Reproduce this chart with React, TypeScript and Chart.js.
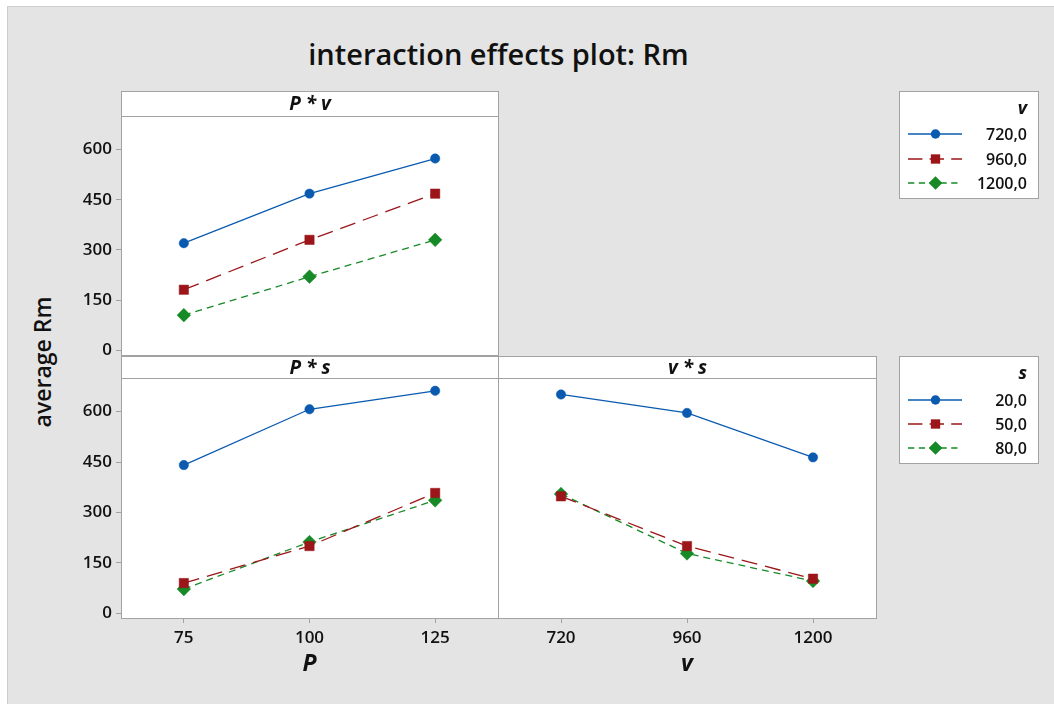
import React, { useEffect, useRef } from "react";
import { Chart, registerables } from "chart.js";

Chart.register(...registerables);

// Factor levels and y-axis ticks
const P_LEVELS = ["75", "100", "125"];
const V_LEVELS = ["720", "960", "1200"];
const Y_TICKS = [0, 150, 300, 450, 600];
const Y_MIN = -14;
const Y_MAX = 700;

// Mean Rm for P * v (one series per v level)
const PV_720 = [320, 468, 573];
const PV_960 = [181, 330, 468];
const PV_1200 = [105, 220, 330];

// Mean Rm for P * s (one series per s level)
const PS_20 = [441, 607, 662];
const PS_50 = [90, 200, 358];
const PS_80 = [72, 212, 336];

// Mean Rm for v * s (one series per s level)
const VS_20 = [651, 596, 464];
const VS_50 = [348, 200, 103];
const VS_80 = [355, 178, 96];

// Legend entries
const V_LEGEND = ["720,0", "960,0", "1200,0"];
const S_LEGEND = ["20,0", "50,0", "80,0"];

const FONT = "'Open Sans', 'Noto Sans', 'DejaVu Sans', sans-serif";
const TEXT = "#111111";
const FRAME = "#a2a2a2";
const PAGE_W = 1054;
const PAGE_H = 704;

type SeriesStyle = { color: string; dash: number[]; point: string; radius: number };

const STYLES: SeriesStyle[] = [
  { color: "#0a5bb0", dash: [], point: "circle", radius: 4.7 },
  { color: "#9b1519", dash: [16, 8], point: "rect", radius: 6.6 },
  { color: "#168a26", dash: [7, 5], point: "rectRot", radius: 6.8 },
];

function makeDatasets(series: number[][], names: string[]) {
  return series.map((values, i) => ({
    label: names[i],
    data: values,
    borderColor: STYLES[i].color,
    backgroundColor: STYLES[i].color,
    borderWidth: 1.3,
    borderDash: STYLES[i].dash,
    pointStyle: STYLES[i].point,
    pointRadius: STYLES[i].radius,
    pointHoverRadius: STYLES[i].radius,
    pointBorderWidth: 0.5,
    pointBackgroundColor: STYLES[i].color,
    pointBorderColor: STYLES[i].color,
    tension: 0,
    fill: false,
  }));
}

function drawMarker(ctx: CanvasRenderingContext2D, s: SeriesStyle, x: number, y: number) {
  ctx.beginPath();
  if (s.point === "circle") {
    ctx.arc(x, y, s.radius, 0, Math.PI * 2);
  } else if (s.point === "rect") {
    const h = s.radius * Math.SQRT1_2;
    ctx.rect(x - h, y - h, 2 * h, 2 * h);
  } else {
    const r = s.radius;
    ctx.moveTo(x - r, y);
    ctx.lineTo(x, y - r);
    ctx.lineTo(x + r, y);
    ctx.lineTo(x, y + r);
    ctx.closePath();
  }
  ctx.fillStyle = s.color;
  ctx.fill();
}

// Draws the white plot panel, its frame, the header strip and an optional legend box
const panelPlugin = {
  id: "panelFrame",
  beforeDraw(chart: any, _args: any, opts: any) {
    const { ctx, chartArea: a } = chart;
    const hh = opts.headerHeight;
    const l = Math.round(a.left) + 0.5;
    const r = Math.round(a.right) + 0.5;
    const t = Math.round(a.top) + 0.5;
    const b = Math.round(a.bottom) + 0.5;
    ctx.save();
    ctx.fillStyle = "#ffffff";
    ctx.fillRect(l, t - hh, r - l, b - t + hh);
    ctx.strokeStyle = FRAME;
    ctx.lineWidth = 1;
    ctx.strokeRect(l, t - hh, r - l, b - t + hh);
    ctx.beginPath();
    ctx.moveTo(l, t);
    ctx.lineTo(r, t);
    ctx.stroke();
    ctx.fillStyle = TEXT;
    ctx.font = `italic 700 19px ${FONT}`;
    ctx.textAlign = "center";
    ctx.textBaseline = "middle";
    ctx.fillText(opts.header, (l + r) / 2, t - hh / 2 + 1);
    ctx.restore();
  },
  afterDraw(chart: any, _args: any, opts: any) {
    const lg = opts.legend;
    if (!lg) return;
    const { ctx } = chart;
    ctx.save();
    ctx.fillStyle = "#ffffff";
    ctx.fillRect(lg.x + 0.5, lg.y + 0.5, lg.w, lg.h);
    ctx.strokeStyle = FRAME;
    ctx.lineWidth = 1;
    ctx.strokeRect(lg.x + 0.5, lg.y + 0.5, lg.w, lg.h);
    ctx.fillStyle = TEXT;
    ctx.textAlign = "right";
    ctx.textBaseline = "middle";
    ctx.font = `italic 700 18px ${FONT}`;
    ctx.fillText(lg.title, lg.x + 128, lg.y + 18);
    ctx.font = `600 16px ${FONT}`;
    chart.data.datasets.forEach((_ds: any, i: number) => {
      const s = STYLES[i];
      const y = lg.y + lg.rows[i];
      ctx.save();
      ctx.strokeStyle = s.color;
      ctx.lineWidth = 1.5;
      ctx.setLineDash(s.dash.length ? s.dash.map((d) => d * 0.9) : []);
      ctx.beginPath();
      ctx.moveTo(lg.x + 9, y);
      ctx.lineTo(lg.x + 63, y);
      ctx.stroke();
      ctx.restore();
      drawMarker(ctx, s, lg.x + 36.5, y);
      ctx.fillStyle = TEXT;
      ctx.fillText(lg.labels[i], lg.x + 128, y + 1);
    });
    ctx.restore();
  },
};

function yScale(show: boolean) {
  const scale: any = {
    type: "linear",
    min: Y_MIN,
    max: Y_MAX,
    display: show,
    afterBuildTicks: (s: any) => {
      s.ticks = Y_TICKS.map((v) => ({ value: v }));
    },
    grid: { drawOnChartArea: false, drawTicks: true, tickLength: 5, color: FRAME },
    border: { display: false },
    ticks: { color: TEXT, padding: 4, font: { family: FONT, size: 17, weight: "600" } },
  };
  if (show) scale.afterFit = (s: any) => { s.width = 50; };
  return scale;
}

function xScale(labels: string[], title: string, show: boolean) {
  const scale: any = {
    type: "category",
    labels,
    offset: true,
    display: show,
    grid: { drawOnChartArea: false, drawTicks: true, tickLength: 5, color: FRAME, offset: false },
    border: { display: false },
    ticks: { color: TEXT, padding: 5, font: { family: FONT, size: 17, weight: "600" } },
    title: {
      display: true,
      text: title,
      color: TEXT,
      padding: 0,
      font: { family: FONT, size: 23, style: "italic", weight: "bold" },
    },
  };
  if (show) scale.afterFit = (s: any) => { s.height = 60; };
  return scale;
}

function buildChart(
  canvas: HTMLCanvasElement,
  cfg: {
    labels: string[];
    series: number[][];
    names: string[];
    xTitle: string;
    showX: boolean;
    showY: boolean;
    padding: { left: number; top: number; right: number; bottom: number };
    header: string;
    headerHeight: number;
    legend?: any;
  }
) {
  return new Chart(canvas, {
    type: "line",
    data: { labels: cfg.labels, datasets: makeDatasets(cfg.series, cfg.names) as any },
    plugins: [panelPlugin as any],
    options: {
      animation: false,
      responsive: false,
      devicePixelRatio: 1,
      layout: { padding: cfg.padding },
      plugins: {
        legend: { display: false },
        title: { display: false },
        tooltip: { enabled: false },
        panelFrame: { header: cfg.header, headerHeight: cfg.headerHeight, legend: cfg.legend },
      } as any,
      scales: {
        x: xScale(cfg.labels, cfg.xTitle, cfg.showX),
        y: yScale(cfg.showY),
      },
    },
  });
}

export default function App() {
  const pvRef = useRef<HTMLCanvasElement>(null);
  const psRef = useRef<HTMLCanvasElement>(null);
  const vsRef = useRef<HTMLCanvasElement>(null);

  useEffect(() => {
    const charts: Chart[] = [];
    charts.push(
      buildChart(pvRef.current!, {
        labels: P_LEVELS,
        series: [PV_720, PV_960, PV_1200],
        names: V_LEGEND,
        xTitle: "P",
        showX: false,
        showY: true,
        padding: { left: 71, top: 116, right: 556, bottom: 349 },
        header: "P * v",
        headerHeight: 25,
        legend: { x: 899, y: 91, w: 139, h: 107, title: "v", labels: V_LEGEND, rows: [43, 68, 92] },
      })
    );
    charts.push(
      buildChart(psRef.current!, {
        labels: P_LEVELS,
        series: [PS_20, PS_50, PS_80],
        names: S_LEGEND,
        xTitle: "P",
        showX: true,
        showY: true,
        padding: { left: 71, top: 378, right: 556, bottom: 26 },
        header: "P * s",
        headerHeight: 22,
      })
    );
    charts.push(
      buildChart(vsRef.current!, {
        labels: V_LEVELS,
        series: [VS_20, VS_50, VS_80],
        names: S_LEGEND,
        xTitle: "v",
        showX: true,
        showY: false,
        padding: { left: 498, top: 378, right: 178, bottom: 26 },
        header: "v * s",
        headerHeight: 22,
        legend: { x: 899, y: 356, w: 139, h: 107, title: "s", labels: S_LEGEND, rows: [44, 68, 92] },
      })
    );
    return () => charts.forEach((c) => c.destroy());
  }, []);

  const canvasStyle: React.CSSProperties = { position: "absolute", left: 0, top: 0 };

  return (
    <div
      style={{
        position: "fixed",
        left: 0,
        top: 0,
        width: PAGE_W,
        height: PAGE_H,
        background: "#ffffff",
        overflow: "hidden",
        fontFamily: FONT,
      }}
    >
      <div
        style={{
          position: "absolute",
          left: 7,
          top: 6,
          right: 0,
          bottom: 0,
          background: "#e4e4e4",
          borderLeft: "1px solid #cdcdcd",
          borderTop: "1px solid #cdcdcd",
        }}
      />
      <div
        style={{
          position: "absolute",
          left: 0,
          width: 997,
          top: 35,
          textAlign: "center",
          fontSize: 29,
          fontWeight: 600,
          color: TEXT,
          lineHeight: "38px",
          whiteSpace: "nowrap",
        }}
      >
        interaction effects plot: Rm
      </div>
      <div
        style={{
          position: "absolute",
          left: 42,
          top: 362,
          transform: "translate(-50%, -50%) rotate(-90deg)",
          fontSize: 23,
          fontWeight: 600,
          color: TEXT,
          whiteSpace: "nowrap",
          lineHeight: "28px",
        }}
      >
        average Rm
      </div>
      <canvas ref={pvRef} width={PAGE_W} height={PAGE_H} style={canvasStyle} />
      <canvas ref={psRef} width={PAGE_W} height={PAGE_H} style={canvasStyle} />
      <canvas ref={vsRef} width={PAGE_W} height={PAGE_H} style={canvasStyle} />
    </div>
  );
}
